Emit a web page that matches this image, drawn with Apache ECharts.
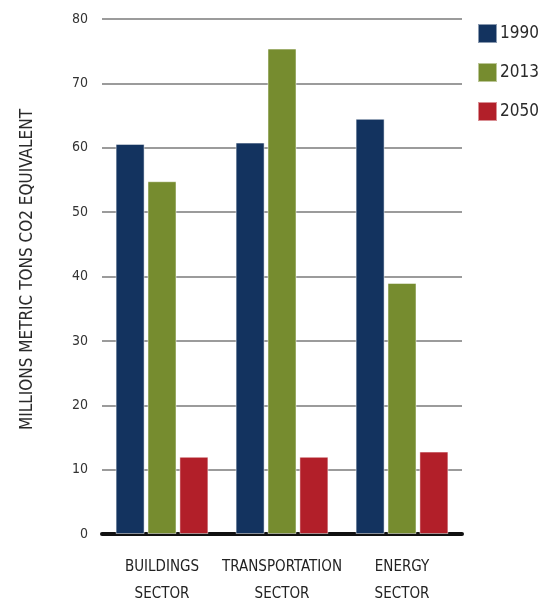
<!DOCTYPE html>
<html>
<head>
<meta charset="utf-8">
<script src="https://cdn.jsdelivr.net/npm/echarts@6/dist/echarts.min.js"></script>
<style>
html,body{margin:0;padding:0;background:#fff;overflow:hidden;}
#chart{width:550px;height:608px;}
</style>
</head>
<body>
<div id="chart"></div>
<script>
var categories = ['BUILDINGS\nSECTOR', 'TRANSPORTATION\nSECTOR', 'ENERGY\nSECTOR'];
var seriesNames = ['1990', '2013', '2050'];
var values1990 = [60.6, 60.8, 64.5];
var values2013 = [54.8, 75.4, 39.0];
var values2050 = [12.0, 12.0, 12.8];
var colors = ['#13335f', '#768c2f', '#b21f29'];
var FONT = '"Liberation Sans Narrow", "DejaVu Sans Condensed", "Roboto Condensed", sans-serif';

var chart = echarts.init(document.getElementById('chart'), null, { width: 550, height: 608 });
var data = [values1990, values2013, values2050];
chart.setOption({
  animation: false,
  color: colors,
  textStyle: { fontFamily: FONT },
  grid: { left: 102, right: 88, top: 19, bottom: 69 },
  legend: {
    orient: 'vertical',
    left: 477,
    top: 23,
    padding: 0,
    itemWidth: 19,
    itemHeight: 19,
    itemGap: 18,
    icon: 'rect',
    textStyle: { fontSize: 17, lineHeight: 19, color: '#2a2a2a', fontFamily: FONT, padding: [0, 0, 0, -2] },
    data: seriesNames
  },
  xAxis: {
    type: 'category',
    data: categories,
    axisLine: { lineStyle: { color: '#111', width: 4 } },
    axisTick: { show: false },
    axisLabel: { interval: 0, fontSize: 15, color: '#222', fontFamily: FONT, margin: 20, lineHeight: 27 }
  },
  yAxis: {
    type: 'value',
    min: 0,
    max: 80,
    interval: 10,
    name: 'MILLIONS METRIC TONS CO2 EQUIVALENT',
    nameLocation: 'middle',
    nameRotate: 90,
    nameGap: 66,
    nameTextStyle: { fontSize: 17, color: '#2a2a2a', fontFamily: FONT, padding: [0, 0, 0, 14] },
    axisLine: { show: false },
    axisTick: { show: false },
    axisLabel: { fontSize: 14, color: '#333', margin: 14, fontFamily: FONT },
    splitLine: { lineStyle: { color: '#7a7a7a', width: 1.5 } }
  },
  series: seriesNames.map(function (n, i) {
    return {
      name: n,
      type: 'bar',
      data: data[i],
      barWidth: 29,
      barGap: '10%',
      itemStyle: { borderColor: 'rgba(255,255,255,0.5)', borderWidth: 1 }
    };
  })
});
</script>
</body>
</html>
